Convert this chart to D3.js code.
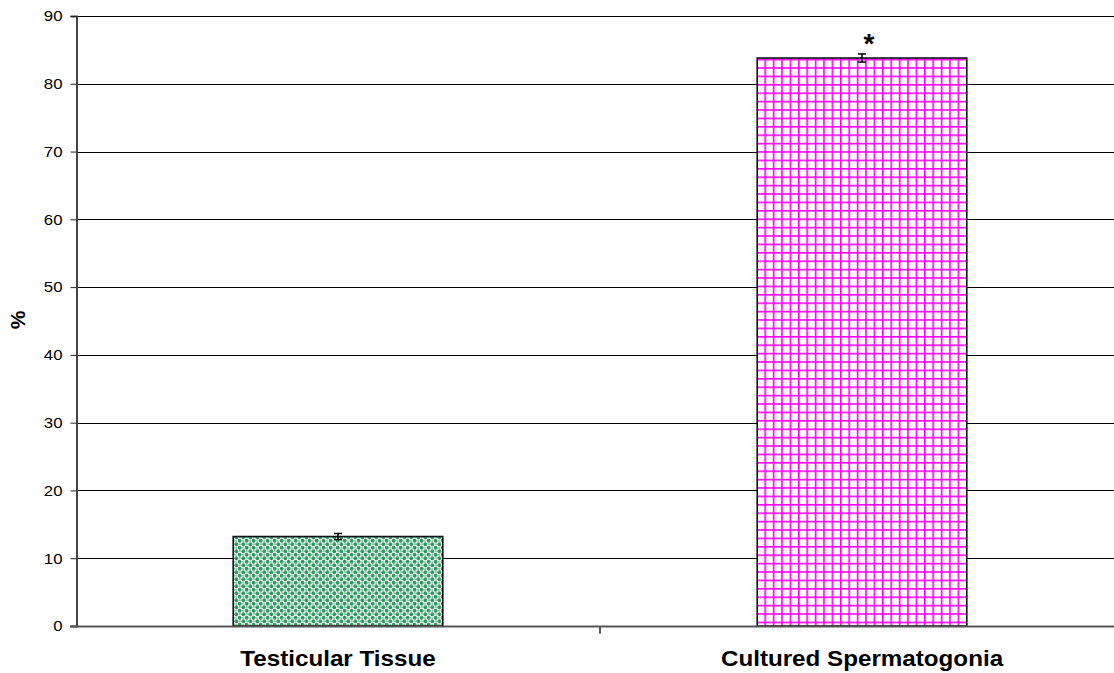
<!DOCTYPE html>
<html>
<head>
<meta charset="utf-8">
<script src="https://cdn.jsdelivr.net/npm/d3@7"></script>
<style>
  html, body { margin: 0; padding: 0; background: #fff; }
  svg { display: block; }
</style>
</head>
<body>
<svg id="chart" width="1114" height="673"></svg>
<script>
// Percentages per sample group, with error-bar half widths
const categories = ["Testicular Tissue", "Cultured Spermatogonia"];
const values = [13.2, 83.8];
const errors = [0.45, 0.6];
const significance = ["", "*"];
const yTicks = [0, 10, 20, 30, 40, 50, 60, 70, 80, 90];

const svg = d3.select("#chart");
const margin = { left: 76, top: 16, bottom: 47 };
const plotRight = 1124;
const H = 673;
const FONT = "'Liberation Sans', Arial, sans-serif";

const x = d3.scaleBand()
  .domain(categories)
  .range([margin.left, plotRight])
  .paddingInner(0.6)
  .paddingOuter(0.3);

const y = d3.scaleLinear()
  .domain([0, 90])
  .range([H - margin.bottom, margin.top]);

// Fill patterns
const defs = svg.append("defs");

const dots = defs.append("pattern")
  .attr("id", "dots")
  .attr("patternUnits", "userSpaceOnUse")
  .attr("width", 7).attr("height", 7);
dots.append("rect").attr("width", 7).attr("height", 7).attr("fill", "#ffffff");
dots.append("circle").attr("cx", 1.75).attr("cy", 1.75).attr("r", 1.9).attr("fill", "#2f9963");
dots.append("circle").attr("cx", 5.25).attr("cy", 5.25).attr("r", 1.9).attr("fill", "#2f9963");
dots.append("circle").attr("cx", 5.25).attr("cy", 1.75).attr("r", 1.2).attr("fill", "#8fcaa9");
dots.append("circle").attr("cx", 1.75).attr("cy", 5.25).attr("r", 1.2).attr("fill", "#8fcaa9");

const grid = defs.append("pattern")
  .attr("id", "grid")
  .attr("patternUnits", "userSpaceOnUse")
  .attr("width", 8.4).attr("height", 8.4);
grid.append("rect").attr("width", 8.4).attr("height", 8.4).attr("fill", "#ffffff");
grid.append("rect").attr("x", 0).attr("y", 0).attr("width", 1.6).attr("height", 8.4).attr("fill", "#ff00ff");
grid.append("rect").attr("x", 0).attr("y", 0).attr("width", 8.4).attr("height", 1.6).attr("fill", "#ff00ff");

const fills = ["url(#dots)", "url(#grid)"];

// Horizontal gridlines
svg.append("g")
  .selectAll("line")
  .data(yTicks.filter(d => d > 0))
  .join("line")
  .attr("x1", margin.left).attr("x2", 1114)
  .attr("y1", d => Math.round(y(d)) + 0.5)
  .attr("y2", d => Math.round(y(d)) + 0.5)
  .attr("stroke", "#000")
  .attr("stroke-width", 1);

// Bars
svg.append("g")
  .selectAll("rect")
  .data(categories)
  .join("rect")
  .attr("x", d => x(d))
  .attr("width", x.bandwidth())
  .attr("y", (d, i) => y(values[i]))
  .attr("height", (d, i) => y(0) - y(values[i]))
  .attr("fill", (d, i) => fills[i])
  .attr("stroke", "#111")
  .attr("stroke-width", 1.6);

// Error bars
const eb = svg.append("g").attr("stroke", "#000").attr("stroke-width", 1.5);
categories.forEach((c, i) => {
  const cx = x(c) + x.bandwidth() / 2;
  eb.append("line").attr("x1", cx).attr("x2", cx)
    .attr("y1", y(values[i] + errors[i])).attr("y2", y(values[i] - errors[i]));
  eb.append("line").attr("x1", cx - 4).attr("x2", cx + 4)
    .attr("y1", y(values[i] + errors[i])).attr("y2", y(values[i] + errors[i]));
  eb.append("line").attr("x1", cx - 4).attr("x2", cx + 4)
    .attr("y1", y(values[i] - errors[i])).attr("y2", y(values[i] - errors[i]));
});

// Significance markers
svg.append("g")
  .selectAll("text")
  .data(categories)
  .join("text")
  .attr("x", d => x(d) + x.bandwidth() / 2 + 7)
  .attr("y", (d, i) => y(values[i] + errors[i]) - 1)
  .attr("text-anchor", "middle")
  .attr("font-family", FONT)
  .attr("font-weight", "bold")
  .attr("font-size", 28)
  .text((d, i) => significance[i]);

// Y axis
const yAxis = svg.append("g")
  .attr("transform", `translate(${margin.left + 0.5},0)`)
  .call(d3.axisLeft(y).tickValues(yTicks).tickSize(6).tickPadding(8).tickFormat(d3.format("d")));
yAxis.select(".domain").attr("stroke", "#444").attr("stroke-width", 2);
yAxis.selectAll(".tick line").attr("stroke", "#222");
yAxis.selectAll(".tick text")
  .attr("x", 0)
  .attr("font-family", FONT)
  .attr("font-size", 15)
  .attr("fill", "#000")
  .attr("transform", "translate(-14,0) scale(1.12,1)");

// X axis baseline with divider tick between groups
const baseY = Math.round(y(0)) + 0.5;
svg.append("line")
  .attr("x1", margin.left - 6).attr("x2", 1114)
  .attr("y1", baseY).attr("y2", baseY)
  .attr("stroke", "#555").attr("stroke-width", 2);
const mid = (x(categories[0]) + x.bandwidth() + x(categories[1])) / 2;
svg.append("line")
  .attr("x1", mid).attr("x2", mid)
  .attr("y1", baseY).attr("y2", baseY + 7)
  .attr("stroke", "#555").attr("stroke-width", 2);

// Category labels
svg.append("g")
  .selectAll("text")
  .data(categories)
  .join("text")
  .attr("transform", d => `translate(${x(d) + x.bandwidth() / 2},666) scale(1.1,1)`)
  .attr("text-anchor", "middle")
  .attr("font-family", FONT)
  .attr("font-weight", "bold")
  .attr("font-size", 22)
  .text(d => d);

// Y axis title
svg.append("text")
  .attr("transform", "translate(25,320) rotate(-90)")
  .attr("text-anchor", "middle")
  .attr("font-family", FONT)
  .attr("font-weight", "bold")
  .attr("font-size", 21)
  .text("%");
</script>
</body>
</html>
